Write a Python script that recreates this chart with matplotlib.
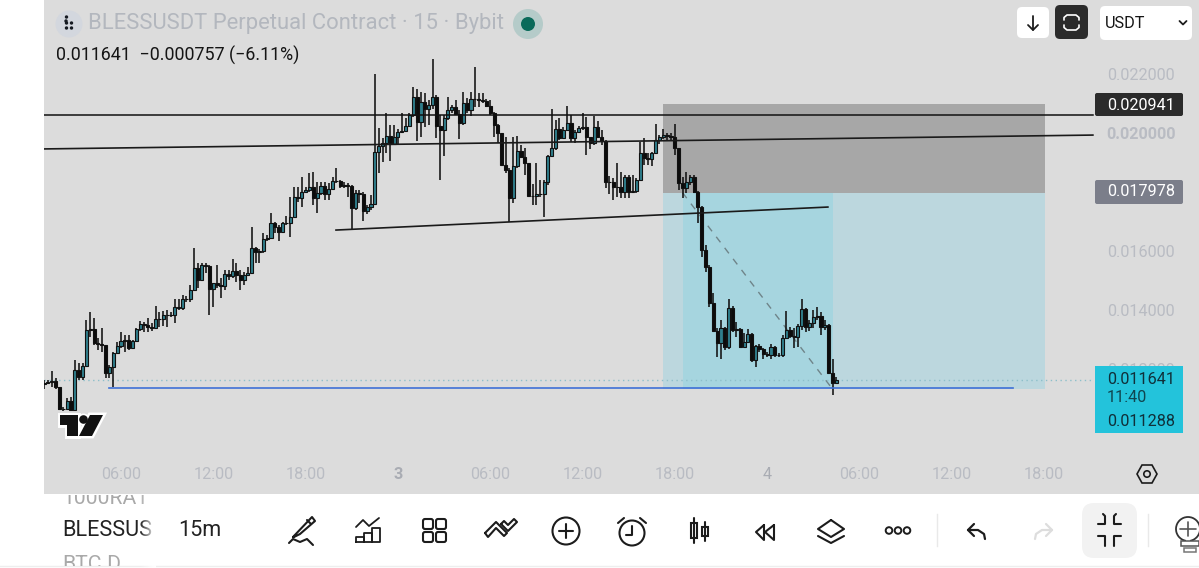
import numpy as np
import matplotlib
matplotlib.use("Agg")
import matplotlib.pyplot as plt
from matplotlib.patches import Rectangle, FancyBboxPatch, Circle, Polygon, Arc

plt.rcParams["font.family"] = ["Roboto", "DejaVu Sans"]

# 15 minute bars, index 0 is the 06:00 bar of day 2. prices in 1e-5 USDT
FIRST_BAR = -20
FIRST_OPEN = 1148
closes = [
    1151, 1155, 1159, 1138, 1063, 1063, 1093, 1061, 1197, 1174,
    1210, 1332, 1334, 1287, 1285, 1281, 1188, 1208, 1253, 1278,
    1296, 1298, 1272, 1296, 1334, 1353, 1348, 1341, 1339, 1368,
    1368, 1382, 1384, 1383, 1409, 1407, 1436, 1438, 1468, 1544,
    1502, 1553, 1549, 1470, 1490, 1484, 1482, 1522, 1516, 1533,
    1520, 1502, 1519, 1527, 1609, 1598, 1599, 1641, 1645, 1694,
    1682, 1665, 1694, 1695, 1716, 1784, 1780, 1801, 1807, 1816,
    1779, 1796, 1822, 1793, 1809, 1838, 1836, 1820, 1823, 1820,
    1745, 1798, 1794, 1736, 1748, 1759, 1937, 1956, 1967, 1990,
    1963, 1985, 2005, 2008, 2024, 2060, 2121, 2038, 2106, 2080,
    2095, 2123, 2024, 2010, 2050, 2078, 2087, 2064, 2035, 2103,
    2078, 2114, 2116, 2112, 2107, 2092, 2069, 2027, 1999, 1892,
    1875, 1779, 1889, 1940, 1918, 1897, 1788, 1786, 1792, 1793,
    1833, 1923, 1948, 2012, 1982, 2010, 2035, 1982, 2002, 2016,
    2019, 1985, 1967, 2019, 1985, 1974, 1835, 1833, 1818, 1816,
    1801, 1850, 1801, 1802, 1841, 1933, 1914, 1913, 1931, 1976,
    1985, 1993, 1990, 1988, 1948, 1829, 1812, 1835, 1850, 1801,
    1750, 1603, 1545, 1423, 1330, 1289, 1338, 1276, 1406, 1332,
    1334, 1276, 1293, 1318, 1231, 1278, 1267, 1251, 1249, 1273,
    1249, 1246, 1304, 1332, 1312, 1310, 1346, 1402, 1341, 1357,
    1377, 1381, 1341, 1349, 1185, 1151, 1164,
]
highs = [
    1163, 1163, 1194, 1168, 1140, 1070, 1101, 1106, 1231, 1219,
    1219, 1366, 1392, 1372, 1304, 1340, 1281, 1214, 1259, 1293,
    1324, 1315, 1315, 1298, 1338, 1364, 1360, 1372, 1355, 1414,
    1394, 1397, 1400, 1394, 1436, 1436, 1451, 1447, 1485, 1609,
    1558, 1558, 1558, 1553, 1493, 1553, 1507, 1536, 1536, 1572,
    1558, 1536, 1530, 1547, 1682, 1615, 1606, 1662, 1654, 1728,
    1699, 1688, 1699, 1719, 1784, 1818, 1818, 1852, 1818, 1863,
    1869, 1835, 1835, 1835, 1829, 1850, 1880, 1841, 1835, 1829,
    1824, 1807, 1807, 1801, 1756, 1790, 2200, 2016, 1982, 2067,
    2027, 2027, 2012, 2067, 2050, 2067, 2155, 2148, 2140, 2134,
    2112, 2250, 2129, 2061, 2061, 2123, 2095, 2112, 2078, 2140,
    2118, 2140, 2225, 2137, 2134, 2114, 2112, 2072, 2031, 1999,
    1985, 1880, 1988, 1990, 1959, 1948, 1899, 1826, 1899, 1841,
    1841, 1925, 2080, 2044, 2050, 2019, 2092, 2061, 2010, 2024,
    2067, 2055, 1988, 2058, 2042, 2010, 1976, 1854, 1846, 1897,
    1869, 1858, 1858, 1858, 1846, 1971, 1982, 1933, 1937, 2031,
    1993, 2012, 2001, 1999, 2031, 1948, 1852, 1869, 1858, 1858,
    1805, 1752, 1620, 1553, 1459, 1338, 1366, 1341, 1436, 1413,
    1360, 1338, 1321, 1334, 1321, 1281, 1285, 1270, 1259, 1285,
    1278, 1253, 1315, 1398, 1343, 1338, 1352, 1438, 1406, 1366,
    1400, 1411, 1394, 1366, 1352, 1235, 1174,
]
lows = [
    1131, 1148, 1138, 1131, 1061, 1058, 1063, 1059, 1058, 1163,
    1163, 1210, 1310, 1281, 1264, 1259, 1168, 1168, 1138, 1251,
    1270, 1259, 1264, 1268, 1293, 1330, 1326, 1326, 1330, 1334,
    1343, 1346, 1343, 1377, 1357, 1400, 1400, 1428, 1428, 1466,
    1473, 1499, 1526, 1383, 1411, 1473, 1440, 1468, 1502, 1507,
    1496, 1468, 1485, 1519, 1522, 1560, 1560, 1592, 1635, 1643,
    1662, 1635, 1660, 1688, 1649, 1716, 1767, 1748, 1796, 1801,
    1756, 1730, 1790, 1773, 1773, 1807, 1829, 1812, 1812, 1784,
    1673, 1739, 1762, 1703, 1725, 1739, 1756, 1866, 1903, 1931,
    1906, 1959, 1959, 2001, 2005, 2019, 2055, 1974, 1985, 2019,
    2027, 2080, 1982, 1841, 1922, 2044, 2067, 2061, 1979, 2027,
    2067, 2058, 2089, 2089, 2101, 2087, 2061, 1985, 1965, 1892,
    1863, 1698, 1764, 1880, 1914, 1858, 1784, 1756, 1756, 1784,
    1714, 1824, 1920, 1942, 1976, 1979, 2008, 1971, 1965, 1999,
    2010, 1926, 1945, 1959, 1982, 1959, 1812, 1793, 1773, 1784,
    1779, 1779, 1779, 1798, 1798, 1838, 1892, 1892, 1888, 1929,
    1963, 1979, 1974, 1974, 1926, 1807, 1779, 1796, 1824, 1796,
    1694, 1579, 1530, 1411, 1330, 1239, 1235, 1264, 1267, 1326,
    1310, 1270, 1273, 1287, 1225, 1206, 1259, 1233, 1239, 1235,
    1242, 1239, 1242, 1301, 1304, 1271, 1276, 1332, 1326, 1330,
    1338, 1366, 1315, 1332, 1183, 1112, 1149,
]

tick_bars = [0, 24, 48, 72, 96, 120, 144, 168, 192, 216, 240]
tick_times = ["06:00", "12:00", "18:00", "3", "06:00", "12:00", "18:00", "4", "06:00", "12:00", "18:00"]
price_ticks = [0.012, 0.014, 0.016, 0.018, 0.020, 0.022]

LAST_PRICE = 0.011641
ZONE_TOP = 0.02098
ZONE_MID = 0.017978
ZONE_BOTTOM = 0.01132
ZONE_START, ZONE_INNER, ZONE_INNER_END, ZONE_END = 141, 146, 185, 240.3

GREY_TEXT = "#b9bcc3"
BG = "#dcdcdc"
ICON = "#1c1c1c"

# screen layout of the chart pane
PANE_LEFT, PANE_BOTTOM = 44, 494
BAR_PX = 3.846
PRICE_PX = 59 / 0.002

fig = plt.figure(figsize=(11.99, 5.68), dpi=100, facecolor="white")
ax = fig.add_axes([PANE_LEFT / 1199, (568 - PANE_BOTTOM) / 568, (1199 - PANE_LEFT) / 1199, PANE_BOTTOM / 568])
ax.set_facecolor(BG)
for spine in ax.spines.values():
    spine.set_visible(False)
ax.set_xlim((PANE_LEFT - 121) / BAR_PX, (1199 - 121) / BAR_PX)
ax.set_ylim(0.022 - (PANE_BOTTOM - 74) / PRICE_PX, 0.022 + 74 / PRICE_PX)

# long / short position tool
ax.add_patch(Rectangle((ZONE_START, ZONE_MID), ZONE_END - ZONE_START, ZONE_TOP - ZONE_MID, color="#a7a7a7", lw=0, zorder=1))
ax.add_patch(Rectangle((ZONE_START, ZONE_BOTTOM), ZONE_END - ZONE_START, ZONE_MID - ZONE_BOTTOM, color="#bcd7de", lw=0, zorder=1))
ax.add_patch(Rectangle((ZONE_INNER, ZONE_BOTTOM), ZONE_INNER_END - ZONE_INNER, ZONE_MID - ZONE_BOTTOM, color="#a6d5df", lw=0, zorder=1.1))
ax.plot([ZONE_INNER, ZONE_INNER_END], [ZONE_MID, ZONE_BOTTOM], color="#6f8489", lw=1, ls=(0, (5, 5)), zorder=1.5)

# candles
c = np.array(closes) / 1e5
h = np.array(highs) / 1e5
l = np.array(lows) / 1e5
o = np.concatenate([[FIRST_OPEN / 1e5], c[:-1]])
bars = FIRST_BAR + np.arange(len(c))
up = c >= o
ax.vlines(bars, l, h, color="#111111", lw=1.15, zorder=3)
ax.bar(bars, np.abs(c - o), bottom=np.minimum(o, c), width=0.8,
       color=np.where(up, "#2f7f8c", "#0c0c0c"), edgecolor="#111111", lw=0.8, zorder=4)

# drawings
ax.plot([-20, 252.7], [0.02061, 0.02061], color="#111111", lw=1.1, zorder=5)
ax.plot([-20, 252.7], [0.01946, 0.01993], color="#1a1a1a", lw=1.2, zorder=5)
ax.plot([55.9, 183.8], [0.01671, 0.01749], color="#1a1a1a", lw=1.2, zorder=5)
ax.plot([-3, 232], [0.01137, 0.01137], color="#3f70d6", lw=1.2, zorder=5)
ax.plot([-20, 252.7], [LAST_PRICE, LAST_PRICE], color="#8dbfca", lw=1, ls=(0, (1, 2.5)), zorder=2)

ax.set_xticks(tick_bars, tick_times)
ax.set_yticks(price_ticks, [f"{p:.6f}" for p in price_ticks])
ax.yaxis.tick_right()
ax.tick_params(axis="x", length=0, pad=-19.5, labelsize=11.7, labelcolor=GREY_TEXT)
ax.tick_params(axis="y", length=0, pad=-66.5, labelsize=11.7, labelcolor=GREY_TEXT)
for lab in ax.get_xticklabels():
    if lab.get_text() in ("3", "4"):
        lab.set_fontweight("bold" if lab.get_text() == "3" else "normal")
        lab.set_color("#a9acb3")
for lab in ax.get_yticklabels():
    if lab.get_text() == "0.020000":
        lab.set_fontweight("bold")

# everything else is app chrome, drawn in screen pixels
ov = fig.add_axes([0, 0, 1, 1], zorder=10)
ov.axis("off")


def rbox(x0, y0, x1, y1, color, r=3, **kw):
    p = FancyBboxPatch((x0 + r, y0 + r), x1 - x0 - 2 * r, y1 - y0 - 2 * r,
                       boxstyle=f"round,pad={r},rounding_size={r}", fc=color, ec="none", **kw)
    ov.add_patch(p)


def stroke(xs, ys, color=ICON, lw=1.5):
    ov.plot(xs, ys, color=color, lw=lw, solid_capstyle="round", solid_joinstyle="round")


# header
ov.add_patch(Circle((69, 24), 13.5, fc="#d3d7de", ec="none"))
for dx, dy in [(0, -6), (0, 0), (5, 0), (0, 5), (5, 5), (-0.5, -2)]:
    ov.add_patch(Circle((66.5 + dx, 23 + dy), 1.7, fc="#151a22", ec="none"))
ov.text(88, 24, "BLESSUSDT Perpetual Contract · 15 · Bybit", fontsize=15.85, color="#b3b7be", va="center", ha="left")
ov.add_patch(Circle((528, 24), 15, fc="#b5cbc9", ec="none"))
ov.add_patch(Circle((528, 24), 7, fc="#0a6a5a", ec="none"))
ov.text(56, 55, "0.011641  −0.000757 (−6.11%)", fontsize=12.85, color="#151515", va="center", ha="left")

# top right buttons
rbox(1017, 7, 1049, 38, "white", r=5)
stroke([1033, 1033], [16, 30], lw=1.3)
stroke([1028, 1033, 1038], [25, 30, 25], lw=1.3)
rbox(1055, 5, 1088, 39, "#2b2b2b", r=5)
stroke([1064, 1064, 1067, 1076, 1079, 1079], [20, 17.5, 15, 15, 17.5, 20], color="white", lw=1.2)
stroke([1064, 1064, 1067, 1076, 1079, 1079], [25, 27.5, 30, 30, 27.5, 25], color="white", lw=1.2)
rbox(1100, 6, 1192, 40, "white", r=5)
ov.text(1105, 23, "USDT", fontsize=11.7, color="#151515", va="center", ha="left")
stroke([1179.5, 1183, 1186.5], [21, 24.5, 21], lw=1.3)

# price tags
rbox(1095, 93, 1183, 116, "#2b2b2b", r=2)
ov.text(1107, 105, "0.020941", fontsize=11.7, color="white", va="center", ha="left")
rbox(1095, 180, 1183, 204, "#7b7e8a", r=2)
ov.text(1107, 192, "0.017978", fontsize=11.7, color="white", va="center", ha="left")
ov.add_patch(Rectangle((1095, 366), 88, 67, fc="#23c3db", ec="none"))
ov.text(1107, 379, "0.011641", fontsize=11.7, color="#10303a", va="center", ha="left")
ov.text(1107, 398, "11:40", fontsize=11.7, color="#10454f", va="center", ha="left")
ov.text(1107, 421, "0.011288", fontsize=11.7, color="#10303a", va="center", ha="left")

# TradingView mark
tv_t = [(60, 415), (78, 415), (78, 436), (67, 436), (67, 425), (60, 425)]
tv_slash = [(90, 415), (103, 415), (92, 436), (79, 436)]
for pts in (tv_t, tv_slash):
    ov.add_patch(Polygon(pts, fc="white", ec="white", lw=3.5, joinstyle="miter"))
ov.add_patch(Circle((83.5, 419.5), 6, fc="white", ec="none"))
for pts in (tv_t, tv_slash):
    ov.add_patch(Polygon(pts, fc="#111111", ec="none"))
ov.add_patch(Circle((83.5, 419.5), 4.3, fc="#111111", ec="none"))

# scale settings
ov.add_patch(Polygon([(1137, 474), (1142, 465), (1152, 465), (1157, 474), (1152, 483), (1142, 483)],
                     fc="none", ec=ICON, lw=1.2))
ov.add_patch(Circle((1147, 474), 3.2, fc="none", ec=ICON, lw=1.2))

# bottom toolbar
ov.plot([0, 1199], [565.5, 565.5], color="#eeeeee", lw=1)
clip_box = Rectangle((0, 495), 1199, 71, transform=ov.transData)
for y, txt in [(499, "1000RAT"), (564, "BTC.D")]:
    t = ov.text(62, y, txt, fontsize=15.2, color="#a9a9a9", va="center", ha="left")
    t.set_clip_on(True)
    t.set_clip_path(clip_box)
ov.text(62, 531, "BLESSUS", fontsize=15.6, color="#222222", va="center", ha="left")
ov.text(178, 531, "15m", fontsize=15.6, color="#222222", va="center", ha="left")
fade = np.ones((1, 32, 4))
fade[..., 3] = np.linspace(0, 1, 32)
ov.imshow(fade, extent=(140, 156, 568, 494.5), aspect="auto", zorder=3)
ov.add_patch(Rectangle((156, 495), 14, 70, fc="white", ec="none", zorder=3))

# pencil
stroke([293, 312, 315, 300, 294, 293], [537, 517, 521, 534, 537, 537])
stroke([307, 311], [520, 524])
stroke([289, 293, 300, 307, 313], [543, 539, 542, 539, 545])
# chart
for x0, top in [(356, 537), (364, 533), (372, 528)]:
    stroke([x0, x0, x0 + 8, x0 + 8, x0], [542, top, top, 542, 542], lw=1.3)
stroke([356, 363, 369, 379], [527, 520, 526, 518], lw=1.3)
# grid
for gx in [425, 438]:
    for gy in [521, 534]:
        ov.add_patch(FancyBboxPatch((gx, gy), 6, 6, boxstyle="round,pad=2,rounding_size=2", fc="none", ec=ICON, lw=1.5))
# trend icon
stroke([485, 496, 507, 504, 496, 488, 485], [533, 522, 533, 536, 528, 537, 533])
stroke([501, 504, 508, 514, 517, 508, 501], [524, 521, 525, 519, 522, 531, 524])
# plus
ov.add_patch(Circle((566, 531), 13.5, fc="none", ec=ICON, lw=1.5))
stroke([559, 573], [531, 531])
stroke([566, 566], [524, 538])
# alarm
ov.add_patch(Circle((632, 533), 12.5, fc="none", ec=ICON, lw=1.5))
stroke([632, 632, 626], [526, 535, 535])
stroke([618, 624], [523, 518])
stroke([646, 640], [523, 518])
# candles
stroke([694, 694], [518, 543])
ov.add_patch(Rectangle((691, 523), 6, 15, fc="white", ec=ICON, lw=1.5))
stroke([705, 705], [522, 541])
ov.add_patch(Rectangle((702, 527), 6, 9, fc="white", ec=ICON, lw=1.5))
# rewind
stroke([764, 756, 764, 764], [525, 532, 540, 525])
stroke([774, 765, 774, 774], [525, 532, 540, 525])
# layers
stroke([831, 844, 831, 818, 831], [520, 529, 537, 529, 520])
stroke([818, 831, 844], [536, 543, 536])
# dots
for dot_x in [889, 898, 907]:
    ov.add_patch(Circle((dot_x, 530.5), 3.3, fc="none", ec=ICON, lw=1.4))
# separators
ov.plot([937, 937], [514, 546], color="#e9e9e9", lw=1)
ov.plot([1148, 1148], [514, 546], color="#e9e9e9", lw=1)
# undo / redo
stroke([974, 968, 974], [524, 530, 536], lw=1.6)
stroke([968, 978, 984, 985], [530, 530, 534, 539], lw=1.6)
stroke([1046, 1052, 1046], [524, 530, 536], color="#dddddd", lw=1.6)
stroke([1052, 1042, 1036, 1035], [530, 530, 534, 539], color="#dddddd", lw=1.6)
# collapse
rbox(1082, 503, 1137, 558, "#f2f2f2", r=12)
stroke([1098, 1105, 1105, 1103], [524, 524, 516, 514], lw=1.5)
stroke([1121, 1114, 1114, 1116], [524, 524, 516, 514], lw=1.5)
stroke([1098, 1105, 1105], [536, 536, 546], lw=1.5)
stroke([1121, 1114, 1114], [536, 536, 546], lw=1.5)
# bulb
ov.add_patch(Arc((1188, 529), 24, 24, theta1=100, theta2=440, ec="#333333", lw=1.3))
stroke([1180, 1196], [529, 529], color="#555555", lw=1.2)
stroke([1188, 1188], [522, 536], color="#555555", lw=1.2)
ov.add_patch(Rectangle((1181, 541), 18, 5, fc="white", ec="#555555", lw=1.1))
ov.add_patch(Rectangle((1184, 548), 12, 4, fc="white", ec="#777777", lw=1.1))

ov.set_xlim(0, 1199)
ov.set_ylim(568, 0)
fig.savefig("out.png", dpi=100, facecolor="white")
